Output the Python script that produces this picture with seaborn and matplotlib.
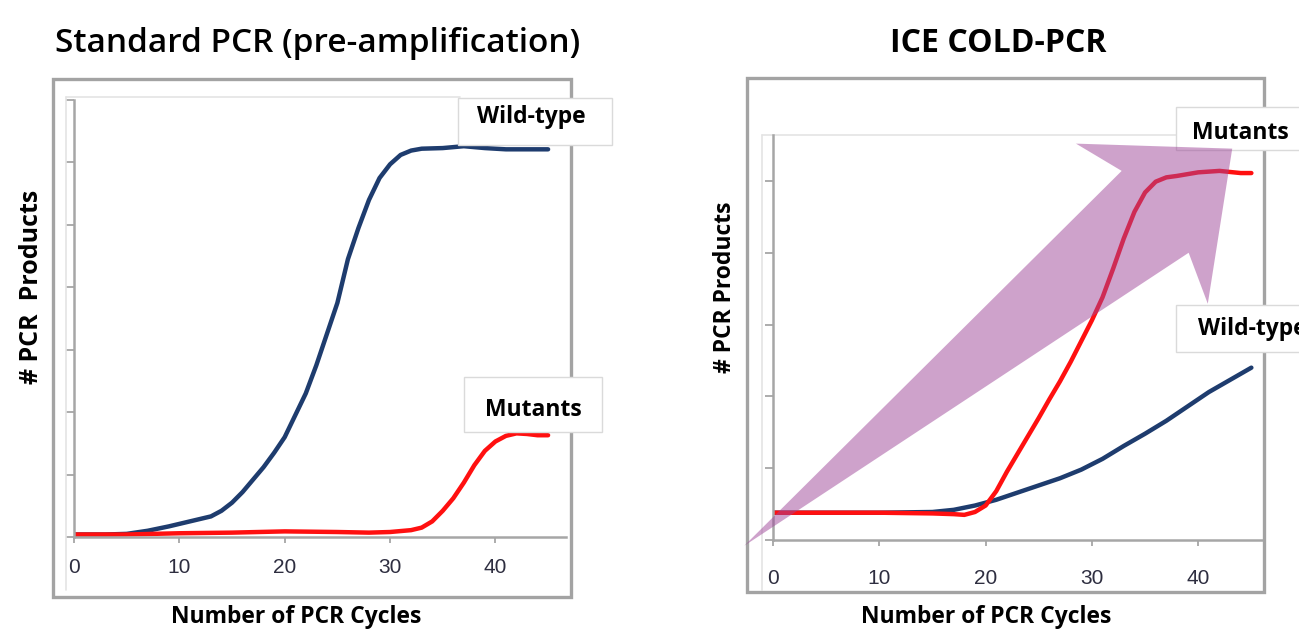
import matplotlib
matplotlib.use("Agg")
import matplotlib.pyplot as plt
from matplotlib.patches import Rectangle
from matplotlib.lines import Line2D
import pandas as pd
import seaborn as sns

# ---- data (y in arbitrary "product" units) ----
cycle_ticks = [0, 10, 20, 30, 40]

std_wt_x = [0, 3, 5, 7, 9, 11, 13, 14, 15, 16, 17, 18, 19, 20, 21, 22, 23, 24, 25, 26, 27, 28,
            29, 30, 31, 32, 33, 35, 37, 39, 41, 43, 45]
std_wt_y = [0.04, 0.04, 0.05, 0.10, 0.17, 0.25, 0.33, 0.42, 0.55, 0.72, 0.92, 1.12, 1.35, 1.6,
            1.95, 2.3, 2.75, 3.25, 3.75, 4.45, 4.95, 5.4, 5.75, 5.97, 6.12, 6.19, 6.22, 6.23,
            6.26, 6.23, 6.21, 6.21, 6.21]

std_mut_x = [0, 5, 10, 15, 20, 25, 28, 30, 32, 33, 34, 35, 36, 37, 38, 39, 40, 41, 42, 43, 44, 45]
std_mut_y = [0.04, 0.04, 0.06, 0.07, 0.09, 0.08, 0.07, 0.08, 0.11, 0.15, 0.25, 0.42, 0.62, 0.87,
             1.15, 1.38, 1.53, 1.62, 1.66, 1.65, 1.63, 1.63]

ice_mut_x = [0, 5, 10, 15, 17, 18, 19, 20, 21, 22, 23, 24, 25, 26, 27, 28, 29, 30, 31, 32, 33,
             34, 35, 36, 37, 38, 40, 42, 44, 45]
ice_mut_y = [0.38, 0.38, 0.38, 0.37, 0.36, 0.35, 0.39, 0.48, 0.68, 0.95, 1.2, 1.45, 1.7, 1.96,
             2.21, 2.48, 2.77, 3.06, 3.38, 3.78, 4.2, 4.57, 4.84, 4.99, 5.05, 5.07, 5.12, 5.14,
             5.11, 5.11]

ice_wt_x = [0, 10, 15, 17, 19, 21, 23, 25, 27, 29, 31, 33, 35, 37, 39, 41, 43, 45]
ice_wt_y = [0.38, 0.38, 0.39, 0.42, 0.48, 0.56, 0.66, 0.76, 0.86, 0.98, 1.13, 1.31, 1.48, 1.66,
            1.86, 2.06, 2.23, 2.4]

# enrichment arrow outline (right panel data coords)
arrow_x = [-2.7, 32.8, 28.5, 43.2, 40.9, 39.1]
arrow_y = [-0.08, 5.14, 5.52, 5.45, 3.29, 4.0]

BLUE = '#1e3c6e'
RED = '#ff1010'
GRID = '#a6a6a6'

sns.set_style("white")
plt.rcParams['font.family'] = ['Open Sans', 'DejaVu Sans']
plt.rcParams['text.color'] = 'black'
plt.rcParams['axes.labelcolor'] = 'black'

W, H = 1299, 632
fig = plt.figure(figsize=(W / 100, H / 100), dpi=100)


def fx(px):
    return px / W


def fy(py):
    return 1 - py / H


def axes_px(x0, y0, x1, y1):
    return fig.add_axes([fx(x0), fy(y1), fx(x1) - fx(x0), fy(y0) - fy(y1)])


def frame_px(x0, y0, x1, y1, **kw):
    r = Rectangle((fx(x0), fy(y1)), fx(x1) - fx(x0), fy(y0) - fy(y1),
                  transform=fig.transFigure, **kw)
    fig.add_artist(r)


def faint_line(xs, ys):
    fig.add_artist(Line2D([fx(v) for v in xs], [fy(v) for v in ys],
                          transform=fig.transFigure, color='#e4e4e4', lw=1.2, zorder=0.5))


def style(ax, xmax, ymax, yticks, pad):
    ax.set_facecolor('none')
    ax.set_xlim(0, xmax)
    ax.set_ylim(0, ymax)
    for s in ['top', 'right']:
        ax.spines[s].set_visible(False)
    for s in ['left', 'bottom']:
        ax.spines[s].set_color(GRID)
        ax.spines[s].set_linewidth(1.8)
    ax.set_xticks(cycle_ticks)
    ax.set_xticklabels([str(t) for t in cycle_ticks])
    ax.set_yticks(yticks)
    ax.set_yticklabels([])
    ax.tick_params(axis='x', bottom=True, direction='out', length=4, width=1.3, color=GRID,
                   pad=pad, labelsize=15, labelcolor='#2e2e40')
    ax.tick_params(axis='y', left=True, direction='out', length=6, width=1.3, color=GRID)
    for lbl in ax.get_xticklabels():
        lbl.set_family(['Liberation Sans', 'DejaVu Sans'])


def axis_labels(ax, xl, xpos, xsize, yl, ypos, ysize):
    ax.set_xlabel(xl, fontsize=xsize, fontweight='bold')
    ax.xaxis.label.set_va('center')
    ax.xaxis.set_label_coords(*xpos)
    ax.set_ylabel(yl, fontsize=ysize, fontweight='bold')
    ax.yaxis.label.set_va('center')
    ax.yaxis.set_label_coords(*ypos)


# ---------------- left panel: standard PCR ----------------
frame_px(53, 79, 571, 597, fill=False, ec='#a3a3a3', lw=2.4, zorder=1)
faint_line([66, 66], [97, 590])
faint_line([66, 460], [97, 97])

ax1 = axes_px(74, 100, 566, 537)
sns.lineplot(x=std_wt_x, y=std_wt_y, ax=ax1, color=BLUE, lw=3.2, solid_capstyle='round')
sns.lineplot(x=std_mut_x, y=std_mut_y, ax=ax1, color=RED, lw=3.2, solid_capstyle='round')
style(ax1, 46.7, 7, range(0, 8), 11)
axis_labels(ax1, 'Number of PCR Cycles', (0.451, -0.183), 16.5,
            '# PCR  Products', (-0.087, 0.572), 18)

# ---------------- right panel: ICE COLD-PCR ----------------
frame_px(747, 78, 1264, 592, fill=False, ec='#a3a3a3', lw=2.4, zorder=1)
faint_line([762, 762], [135, 590])
faint_line([762, 1176], [135, 135])

ax2 = axes_px(773, 135, 1262, 540)
ax2.set_zorder(3)
sns.lineplot(x=ice_wt_x, y=ice_wt_y, ax=ax2, color=BLUE, lw=3.2, solid_capstyle='round')
sns.lineplot(x=ice_mut_x, y=ice_mut_y, ax=ax2, color=RED, lw=3.2, solid_capstyle='round')
ax2.fill(arrow_x, arrow_y, color=(0.62, 0.28, 0.60), alpha=0.5, lw=0, clip_on=False, zorder=4)
style(ax2, 46.0, 5.64, range(0, 6), 17)
axis_labels(ax2, 'Number of PCR Cycles', (0.436, -0.19), 16.5,
            '# PCR Products', (-0.098, 0.625), 16.5)

# ---------------- series labels in white boxes ----------------
frame_px(458, 98, 612, 145, fc='white', ec='#dadada', lw=1, zorder=2)
frame_px(464, 377, 602, 432, fc='white', ec='#dadada', lw=1, zorder=2)
frame_px(1176, 107, 1310, 150, fc='white', ec='#dadada', lw=1, zorder=2)
frame_px(1176, 305, 1310, 352, fc='white', ec='#dadada', lw=1, zorder=2)

lab = dict(fontsize=16.5, fontweight='bold', color='black', zorder=6)
fig.text(fx(531), fy(117), 'Wild-type', ha='center', va='center', **lab)
fig.text(fx(533), fy(410), 'Mutants', ha='center', va='center', **lab)
fig.text(fx(1240), fy(133), 'Mutants', ha='center', va='center', **lab)
# the reference crops this label at the right edge of the figure
fig.text(fx(1198), fy(329), 'Wild-type', ha='left', va='center', **lab)

# ---------------- panel titles ----------------
fig.text(fx(318), fy(43), 'Standard PCR (pre-amplification)', ha='center', va='center',
         fontsize=24, fontweight='semibold', color='black')
fig.text(fx(998), fy(43), 'ICE COLD-PCR', ha='center', va='center', fontsize=23,
         fontweight='bold', color='black')

fig.savefig('out.png', dpi=100)
